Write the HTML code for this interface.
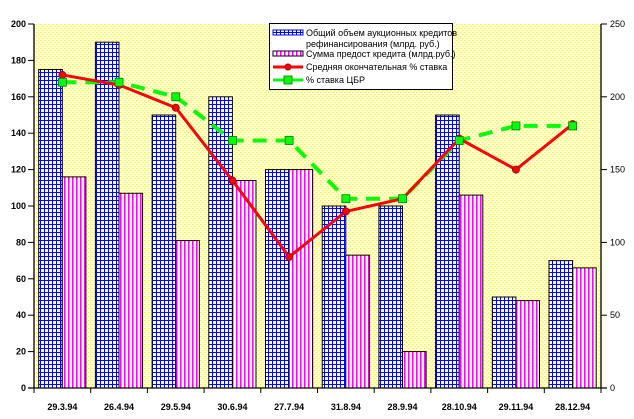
<!DOCTYPE html>
<html><head><meta charset="utf-8"><style>
html,body{margin:0;padding:0;background:#fff;}
svg{display:block;font-family:"Liberation Sans","DejaVu Sans",sans-serif;}
</style></head><body>
<svg width="634" height="419" viewBox="0 0 634 419" xmlns="http://www.w3.org/2000/svg">
<defs>
<pattern id="dots" width="4" height="4" patternUnits="userSpaceOnUse">
<rect width="4" height="4" fill="#fff"/>
<rect x="0" y="0" width="1.2" height="1.2" fill="#ff0"/>
<rect x="2" y="2" width="1.2" height="1.2" fill="#ff0"/>
</pattern>
<pattern id="grid" width="4" height="4" patternUnits="userSpaceOnUse">
<rect width="4" height="4" fill="#fff"/>
<rect x="0" y="0" width="4" height="1" fill="#00f"/>
<rect x="0" y="0" width="1" height="4" fill="#00f"/>
</pattern>
<pattern id="vstr" width="4" height="4" patternUnits="userSpaceOnUse">
<rect width="4" height="4" fill="#fff"/>
<rect x="0" y="0" width="1.5" height="4" fill="#f0f"/>
</pattern>
</defs>
<rect x="34" y="24" width="567" height="364" fill="url(#dots)"/>
<g id="bars" stroke="#000" stroke-width="1"></g>
<g id="lines"></g>
<!-- axes -->
<g stroke="#000" stroke-width="1.3" fill="none">
<line x1="34" y1="24" x2="34" y2="388"/>
<line x1="601" y1="24" x2="601" y2="388"/>
<line x1="28" y1="388" x2="607" y2="388"/>
</g>
<g id="ticks" stroke="#000" stroke-width="1"></g>
<g id="labels" font-size="9" fill="#000"></g>
<!-- legend -->
<rect x="269.5" y="23.5" width="183" height="66" fill="#fff" stroke="#000" stroke-width="1"/>
<rect x="273" y="30" width="30" height="5" fill="url(#grid)" stroke="#00f" stroke-width="1"/>
<rect x="273" y="51" width="30" height="5" fill="url(#vstr)" stroke="#000" stroke-width="1"/>
<line x1="273" y1="67" x2="303" y2="67" stroke="#f00" stroke-width="3"/>
<circle cx="288" cy="67" r="3" fill="#f00" stroke="#a00"/>
<line x1="273" y1="80" x2="303" y2="80" stroke="#0f0" stroke-width="3"/>
<rect x="284" y="76" width="8" height="8" fill="#0f0" stroke="#070" stroke-width="0.8"/>
<g font-size="9" fill="#000">
<text x="306" y="36">Общий объем аукционных кредитов</text>
<text x="306" y="47">рефинансирования (млрд. руб.)</text>
<text x="306" y="57">Сумма предост кредита (млрд.руб.)</text>
<text x="306" y="70">Средняя окончательная % ставка</text>
<text x="306" y="83">% ставка ЦБР</text>
</g>
<script>
const ns="http://www.w3.org/2000/svg";
function el(p,t,a,txt){const e=document.createElementNS(ns,t);for(const k in a)e.setAttribute(k,a[k]);if(txt!==undefined)e.textContent=txt;p.appendChild(e);return e;}
const L=34,W=56.7,B=388,sy=1.82,sr=1.456;
const blue=[175,190,150,160,120,100,100,150,50,70];
const mag=[116,107,81,114,120,73,20,106,48,66];
const red=[172,166.5,154,114,72,97,104,137,120,145];
const grn=[210,210,200,170,170,130,130,170,180,180];
const cats=["29.3.94","26.4.94","29.5.94","30.6.94","27.7.94","31.8.94","28.9.94","28.10.94","29.11.94","28.12.94"];
const bars=document.getElementById('bars');
for(let i=0;i<10;i++){const x0=L+i*W+4.7;
el(bars,'rect',{x:x0,y:B-blue[i]*sy,width:23.6,height:blue[i]*sy,fill:'url(#grid)'});
el(bars,'rect',{x:x0+23.6,y:B-mag[i]*sy,width:23.6,height:mag[i]*sy,fill:'url(#vstr)'});}
const lines=document.getElementById('lines');
const cx=i=>L+i*W+28.35;
el(lines,'polyline',{points:grn.map((v,i)=>cx(i)+','+(B-v*sr)).join(' '),fill:'none',stroke:'#0f0','stroke-width':4,'stroke-dasharray':'14 9'});
el(lines,'polyline',{points:red.map((v,i)=>cx(i)+','+(B-v*sy)).join(' '),fill:'none',stroke:'#f00','stroke-width':3});
red.forEach((v,i)=>el(lines,'circle',{cx:cx(i),cy:B-v*sy,r:3.5,fill:'#f00',stroke:'#a00'}));
grn.forEach((v,i)=>el(lines,'rect',{x:cx(i)-4,y:B-v*sr-4,width:8,height:8,fill:'#0f0',stroke:'#070','stroke-width':0.8}));
const tk=document.getElementById('ticks'),lb=document.getElementById('labels');
for(let v=0;v<=200;v+=20){const y=B-v*sy;el(tk,'line',{x1:28,y1:y,x2:34,y2:y});el(lb,'text',{x:26,y:y+3,'text-anchor':'end','font-weight':'bold'},v);}
for(let v=0;v<=250;v+=50){const y=B-v*sr;el(tk,'line',{x1:601,y1:y,x2:607,y2:y});el(lb,'text',{x:610,y:y+3},v);}
for(let i=0;i<=10;i++){const x=L+i*W;el(tk,'line',{x1:x,y1:B,x2:x,y2:B+5});}
cats.forEach((c,i)=>el(lb,'text',{x:cx(i),y:410,'text-anchor':'middle','font-weight':'bold'},c));
</script>
</svg>
</body></html>
